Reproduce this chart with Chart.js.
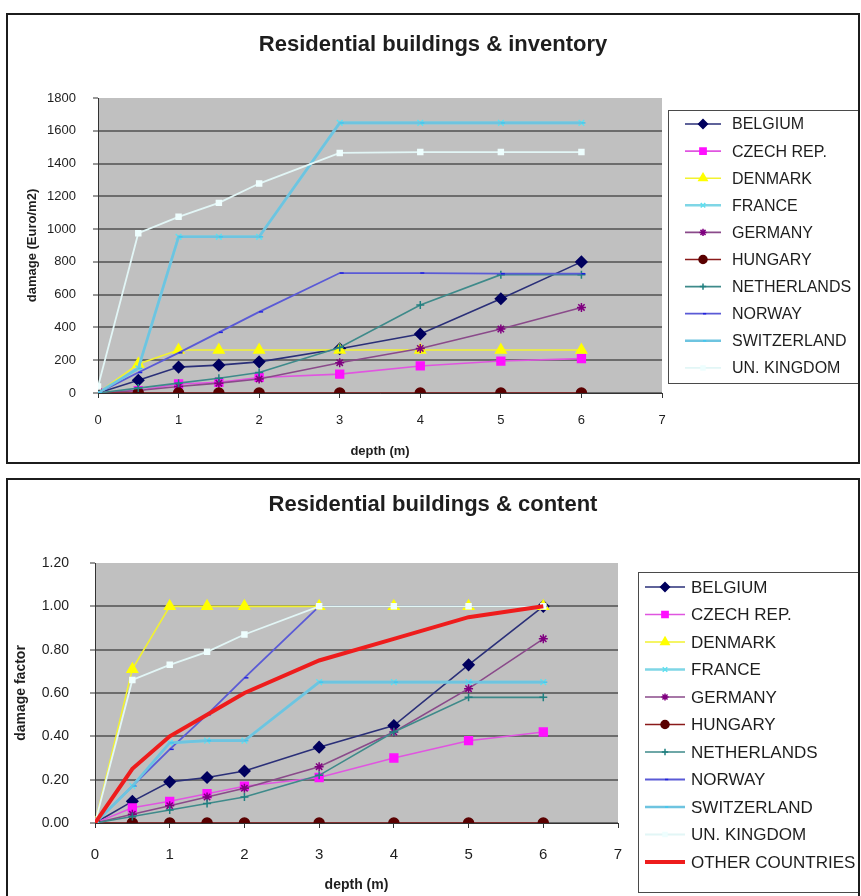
<!DOCTYPE html>
<html>
<head>
<meta charset="utf-8">
<title>Residential buildings - depth-damage curves</title>
<script src="https://cdn.jsdelivr.net/npm/chart.js@4.4.1/dist/chart.umd.min.js"></script>
<style>
  html, body { margin: 0; padding: 0; background: #fff; width: 861px; height: 896px; overflow: hidden; }
  .frame { position: absolute; box-sizing: border-box; border: 2px solid #1c1c1c; background: #fff; overflow: hidden; }
  #f1 { left: 6px; top: 13px; width: 854px; height: 451px; }
  #f2 { left: 6px; top: 478px; width: 854px; height: 440px; }
  canvas { position: absolute; left: 0; top: 0; }
</style>
</head>
<body>
<div class="frame" id="f1"><canvas id="inv" width="850" height="447"></canvas></div>
<div class="frame" id="f2"><canvas id="cnt" width="850" height="436"></canvas></div>
<script>
// Water depth (m) at which each damage value is given
const depthM = [0, 0.5, 1, 1.5, 2, 3, 4, 5, 6];
const countries = ['BELGIUM', 'CZECH REP.', 'DENMARK', 'FRANCE', 'GERMANY', 'HUNGARY',
                   'NETHERLANDS', 'NORWAY', 'SWITZERLAND', 'UN. KINGDOM'];
const otherLabel = 'OTHER COUNTRIES';
const invTicks = [0, 200, 400, 600, 800, 1000, 1200, 1400, 1600, 1800];
const cntTicks = [0, 0.2, 0.4, 0.6, 0.8, 1.0, 1.2];
const depthTicks = [0, 1, 2, 3, 4, 5, 6, 7];

// Residential buildings & inventory: damage in Euro/m2
const invBelgium     = [0, 78, 158, 170, 190, 270, 360, 575, 800];
const invCzech       = [0, 15, 55, 65, 95, 115, 165, 195, 210];
const invDenmark     = [0, 177, 262, 262, 262, 262, 262, 262, 262];
const invFrance      = [0, 150, 953, 953, 953, 1648, 1648, 1648, 1648];
const invGermany     = [0, 15, 40, 60, 85, 185, 272, 390, 522];
const invHungary     = [0, 0, 0, 0, 0, 0, 0, 0, 0];
const invNetherlands = [0, 30, 60, 90, 125, 278, 537, 722, 722];
const invNorway      = [0, 125, 245, 370, 495, 732, 732, 728, 728];
const invSwitzerland = [0, 150, 953, 953, 953, 1648, 1648, 1648, 1648];
const invUK          = [40, 975, 1075, 1160, 1278, 1465, 1470, 1470, 1470];

// Residential buildings & content: damage factor
const cntBelgium     = [0, 0.10, 0.19, 0.21, 0.24, 0.35, 0.45, 0.73, 1.00];
const cntCzech       = [0, 0.07, 0.10, 0.135, 0.17, 0.21, 0.30, 0.38, 0.42];
const cntDenmark     = [0, 0.71, 1.00, 1.00, 1.00, 1.00, 1.00, 1.00, 1.00];
const cntFrance      = [0, 0.17, 0.37, 0.38, 0.38, 0.65, 0.65, 0.65, 0.65];
const cntGermany     = [0, 0.04, 0.08, 0.12, 0.16, 0.26, 0.42, 0.62, 0.85];
const cntHungary     = [0, 0, 0, 0, 0, 0, 0, 0, 0];
const cntNetherlands = [0, 0.03, 0.06, 0.09, 0.12, 0.22, 0.42, 0.58, 0.58];
const cntNorway      = [0, 0.17, 0.34, 0.50, 0.67, 1.00, 1.00, 1.00, 1.00];
const cntSwitzerland = [0, 0.17, 0.37, 0.38, 0.38, 0.65, 0.65, 0.65, 0.65];
const cntUK          = [0, 0.66, 0.73, 0.79, 0.87, 1.00, 1.00, 1.00, 1.00];
const cntOther       = [0, 0.25, 0.40, 0.50, 0.60, 0.75, 0.85, 0.95, 1.00];

const FONT = 'Arial, "Liberation Sans", Helvetica, sans-serif';
const TEXT = '#1e1e1e';

// Line and marker look of each country series
const looks = [
  { line: '#2a2f78', fill: '#00005e', pt: 'rectRot',  r: 5.5, w: 1.6 },
  { line: '#e055e0', fill: '#ff10ff', pt: 'rect',     r: 5.5, w: 1.6 },
  { line: '#f2f230', fill: '#ffff00', pt: 'triangle', r: 6,   w: 1.6 },
  { line: '#7fd6e6', fill: '#5ee0f0', pt: 'crossRot', r: 4,   w: 2.6 },
  { line: '#8a4a8a', fill: '#800080', pt: 'star',     r: 4.5, w: 1.6 },
  { line: '#8a1a1a', fill: '#5a0000', pt: 'circle',   r: 5,   w: 1.6 },
  { line: '#3e8a8a', fill: '#208080', pt: 'cross',    r: 4,   w: 1.6 },
  { line: '#5a5ad6', fill: '#2020e0', pt: 'dash',     r: 4,   w: 1.8 },
  { line: '#6ec4e0', fill: '#40c8f0', pt: 'dash',     r: 4,   w: 2.6 },
  { line: '#e2f6f6', fill: '#eefefe', pt: 'rect',     r: 3.5, w: 1.8 }
];

function seriesSet(valueLists) {
  const n = valueLists.length;
  return valueLists.map((vals, i) => {
    const lk = looks[i];
    return {
      label: countries[i],
      data: depthM.map((d, k) => ({ x: d, y: vals[k] })),
      borderColor: lk.line,
      borderWidth: lk.w,
      pointStyle: lk.pt,
      pointRadius: lk.r,
      pointBackgroundColor: lk.fill,
      pointBorderColor: lk.fill,
      pointBorderWidth: 1.5,
      tension: 0,
      fill: false,
      order: n + 5 - i
    };
  });
}

// Grey plot background, heading and a boxed legend drawn next to the plot
const panelPlugin = {
  id: 'panel',
  beforeDraw(chart, args, o) {
    const { ctx, chartArea: a } = chart;
    ctx.save();
    ctx.fillStyle = '#c0c0c0';
    ctx.fillRect(a.left, a.top, a.right - a.left, a.bottom - a.top);
    ctx.restore();
  },
  afterDraw(chart, args, o) {
    const ctx = chart.ctx;
    ctx.save();
    ctx.fillStyle = TEXT;
    ctx.font = 'bold ' + o.titleSize + 'px ' + FONT;
    ctx.textAlign = 'center';
    ctx.textBaseline = 'middle';
    ctx.fillText(o.title, o.titleX, o.titleY);

    const b = o.box;
    ctx.lineWidth = 1;
    ctx.strokeStyle = '#4a4a4a';
    ctx.strokeRect(b.left + 0.5, b.top + 0.5, b.right - b.left, b.bottom - b.top);
    ctx.font = o.legendSize + 'px ' + FONT;
    ctx.textAlign = 'left';
    chart.data.datasets.forEach((ds, i) => {
      const y = b.firstY + i * b.step;
      ctx.strokeStyle = ds.borderColor;
      ctx.lineWidth = Math.min(ds.borderWidth, 4);
      ctx.beginPath();
      ctx.moveTo(b.lineX0, y);
      ctx.lineTo(b.lineX1, y);
      ctx.stroke();
      if (ds.pointRadius > 0) {
        ctx.fillStyle = ds.pointBackgroundColor;
        ctx.strokeStyle = ds.pointBorderColor;
        ctx.lineWidth = 1.5;
        Chart.helpers.drawPoint(ctx, { pointStyle: ds.pointStyle, radius: ds.pointRadius * 0.8, rotation: 0, borderWidth: 1.5 },
          (b.lineX0 + b.lineX1) / 2, y);
      }
      ctx.fillStyle = TEXT;
      ctx.fillText(ds.label, b.textX, y + 1);
    });
    ctx.restore();
  }
};

function depthAxis(p) {
  return {
    type: 'linear', min: 0, max: 7,
    afterBuildTicks: s => { s.ticks = depthTicks.map(v => ({ value: v })); },
    ticks: { color: TEXT, font: { family: FONT, size: p.tickSize }, padding: p.tickPad, maxRotation: 0,
             callback: v => String(v) },
    grid: { drawOnChartArea: false, drawTicks: true, tickLength: 5, tickColor: '#333', tickWidth: 1 },
    border: { color: '#333', width: 1 },
    title: { display: true, text: 'depth (m)', color: TEXT,
             font: { family: FONT, size: p.titleSize, weight: 'bold' }, padding: { top: 0, bottom: p.titlePad } },
    afterFit: s => { s.height = p.height; }
  };
}

function valueAxis(p) {
  const top = p.ticks[p.ticks.length - 1];
  return {
    type: 'linear', min: 0, max: top,
    afterBuildTicks: s => { s.ticks = p.ticks.map(v => ({ value: v })); },
    ticks: { color: TEXT, font: { family: FONT, size: p.tickSize }, padding: p.tickPad, callback: p.fmt },
    grid: {
      color: c => (c.tick && Math.abs(c.tick.value - top) < 1e-9) ? 'rgba(0,0,0,0)' : '#6c6c6c',
      lineWidth: 2, drawTicks: true, tickLength: 5, tickColor: '#333', tickWidth: 1
    },
    border: { color: '#333', width: 1 },
    title: { display: true, text: p.title, color: TEXT,
             font: { family: FONT, size: p.titleSize, weight: 'bold' }, padding: { top: p.titlePad, bottom: 0 } },
    afterFit: s => { s.width = p.width; }
  };
}

Chart.register(panelPlugin);

new Chart(document.getElementById('inv'), {
  type: 'line',
  data: {
    datasets: seriesSet([invBelgium, invCzech, invDenmark, invFrance, invGermany, invHungary,
                         invNetherlands, invNorway, invSwitzerland, invUK])
  },
  options: {
    responsive: false, animation: false,
    layout: { padding: { top: 83, right: 196, left: 0, bottom: 0 } },
    scales: {
      x: depthAxis({ tickSize: 13, tickPad: 15, titleSize: 13, titlePad: 3, height: 69 }),
      y: valueAxis({ ticks: invTicks, fmt: v => String(v), title: 'damage (Euro/m2)',
                     tickSize: 13, tickPad: 17, titleSize: 13, titlePad: 17, width: 90 })
    },
    plugins: {
      legend: { display: false },
      tooltip: { enabled: false },
      panel: {
        title: 'Residential buildings & inventory', titleSize: 22, titleX: 425, titleY: 30,
        legendSize: 16,
        box: { left: 660, top: 95, right: 851, bottom: 368, firstY: 109, step: 27.1,
               lineX0: 677, lineX1: 713, textX: 724 }
      }
    }
  }
});

const contentSets = seriesSet([cntBelgium, cntCzech, cntDenmark, cntFrance, cntGermany, cntHungary,
                               cntNetherlands, cntNorway, cntSwitzerland, cntUK]);
contentSets.push({
  label: otherLabel,
  data: depthM.map((d, k) => ({ x: d, y: cntOther[k] })),
  borderColor: '#ee1c1c',
  borderWidth: 4,
  pointRadius: 0,
  tension: 0,
  fill: false,
  order: 0
});

new Chart(document.getElementById('cnt'), {
  type: 'line',
  data: { datasets: contentSets },
  options: {
    responsive: false, animation: false,
    layout: { padding: { top: 83, right: 240, left: 0, bottom: 20 } },
    scales: {
      x: depthAxis({ tickSize: 15, tickPad: 18, titleSize: 14, titlePad: 2, height: 73 }),
      y: valueAxis({ ticks: cntTicks, fmt: v => v.toFixed(2), title: 'damage factor',
                     tickSize: 14, tickPad: 21, titleSize: 14, titlePad: 5, width: 87 })
    },
    plugins: {
      legend: { display: false },
      tooltip: { enabled: false },
      panel: {
        title: 'Residential buildings & content', titleSize: 22, titleX: 425, titleY: 25,
        legendSize: 17,
        box: { left: 630, top: 92, right: 856, bottom: 412, firstY: 107, step: 27.5,
               lineX0: 637, lineX1: 677, textX: 683 }
      }
    }
  }
});
</script>
</body>
</html>
